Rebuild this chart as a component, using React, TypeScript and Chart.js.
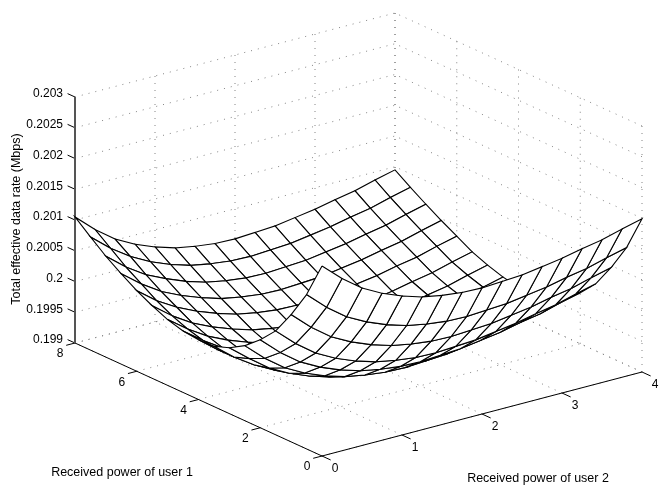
import React, { useEffect, useRef } from "react";
import { Chart, registerables } from "chart.js";

Chart.register(...registerables);

const power2 = [0, 0.25, 0.5, 0.75, 1, 1.25, 1.5, 1.75, 2, 2.25, 2.5, 2.75, 3, 3.25, 3.5, 3.75, 4];
const power1 = [0, 0.5, 1, 1.5, 2, 2.5, 3, 3.5, 4, 4.5, 5, 5.5, 6, 6.5, 7, 7.5, 8];
const rate = [
  [0.20209,0.20180,0.20156,0.20139,0.20126,0.20116,0.20110,0.20106,0.20105,0.20107,0.20109,0.20114,0.20119,0.20126,0.20132,0.20141,0.20149],
  [0.20151,0.20122,0.20098,0.20081,0.20068,0.20058,0.20052,0.20048,0.20047,0.20049,0.20051,0.20056,0.20061,0.20068,0.20074,0.20083,0.20091],
  [0.20107,0.20078,0.20054,0.20037,0.20024,0.20014,0.20008,0.20004,0.20003,0.20005,0.20007,0.20012,0.20017,0.20024,0.20030,0.20039,0.20047],
  [0.20069,0.20040,0.20016,0.19999,0.19986,0.19976,0.19970,0.19966,0.19965,0.19967,0.19969,0.19974,0.19979,0.19986,0.19992,0.20001,0.20009],
  [0.20043,0.20014,0.19990,0.19973,0.19960,0.19950,0.19944,0.19940,0.19939,0.19941,0.19943,0.19948,0.19953,0.19960,0.19966,0.19975,0.19983],
  [0.20022,0.19993,0.19969,0.19952,0.19939,0.19929,0.19923,0.19919,0.19918,0.19920,0.19922,0.19927,0.19932,0.19939,0.19945,0.19954,0.19962],
  [0.20007,0.19981,0.19957,0.19940,0.19927,0.19917,0.19911,0.19907,0.19906,0.19908,0.19910,0.19915,0.19920,0.19927,0.19933,0.19942,0.19950],
  [0.19998,0.19972,0.19951,0.19934,0.19921,0.19911,0.19905,0.19901,0.19900,0.19902,0.19904,0.19909,0.19914,0.19921,0.19927,0.19936,0.19944],
  [0.19997,0.19972,0.19951,0.19936,0.19923,0.19913,0.19907,0.19903,0.19902,0.19904,0.19906,0.19911,0.19916,0.19923,0.19929,0.19938,0.19946],
  [0.20000,0.19976,0.19955,0.19940,0.19928,0.19918,0.19912,0.19908,0.19907,0.19909,0.19911,0.19916,0.19921,0.19928,0.19934,0.19943,0.19951],
  [0.20007,0.19983,0.19963,0.19948,0.19936,0.19926,0.19920,0.19916,0.19915,0.19917,0.19919,0.19924,0.19929,0.19936,0.19942,0.19951,0.19959],
  [0.20018,0.19993,0.19973,0.19958,0.19946,0.19936,0.19930,0.19926,0.19925,0.19927,0.19929,0.19934,0.19939,0.19946,0.19952,0.19961,0.19969],
  [0.20031,0.20006,0.19987,0.19972,0.19960,0.19950,0.19944,0.19940,0.19939,0.19941,0.19943,0.19948,0.19953,0.19960,0.19966,0.19975,0.19983],
  [0.20047,0.20022,0.20001,0.19986,0.19974,0.19964,0.19958,0.19954,0.19953,0.19955,0.19957,0.19962,0.19967,0.19974,0.19980,0.19989,0.19997],
  [0.20064,0.20038,0.20017,0.20002,0.19989,0.19979,0.19973,0.19969,0.19968,0.19970,0.19972,0.19977,0.19982,0.19989,0.19995,0.20004,0.20012],
  [0.20084,0.20057,0.20035,0.20018,0.20005,0.19995,0.19989,0.19985,0.19984,0.19986,0.19988,0.19993,0.19998,0.20005,0.20011,0.20020,0.20028],
  [0.20105,0.20076,0.20052,0.20035,0.20022,0.20012,0.20006,0.20002,0.20001,0.20003,0.20005,0.20010,0.20015,0.20022,0.20028,0.20037,0.20045],
];

const xTicks = [0, 1, 2, 3, 4];
const yTicks = [0, 2, 4, 6, 8];
const zTicks = [0.199, 0.1995, 0.2, 0.2005, 0.201, 0.2015, 0.202, 0.2025, 0.203];
const zTickLabels = ["0.199", "0.1995", "0.2", "0.2005", "0.201", "0.2015", "0.202", "0.2025", "0.203"];
const xTitle = "Received power of user 2";
const yTitle = "Received power of user 1";
const zTitle = "Total effective data rate (Mbps)";

const X_MAX = 4;
const Y_MAX = 8;
const Z_MIN = 0.199;
const Z_MAX = 0.203;

function view(x: number, y: number, z: number) {
  return {
    x: 322 + 80 * x - 30.875 * y,
    y: 456 - 21 * x - 14.125 * y - (z - Z_MIN) * 61500,
  };
}

const base = { showLine: true, pointRadius: 0, pointHoverRadius: 0, tension: 0, fill: false };

function solid(a: number[], b: number[], color = "#000", width = 1) {
  return {
    ...base,
    data: [view(a[0], a[1], a[2]), view(b[0], b[1], b[2])],
    borderColor: color,
    borderWidth: width,
  };
}

function dotted(a: number[], b: number[]) {
  return { ...solid(a, b, "#777", 0.9), borderDash: [1, 6] };
}

function buildDatasets() {
  const sets: any[] = [];
  for (let i = 0; i < power2.length - 1; i++) {
    for (let j = 0; j < power1.length - 1; j++) {
      const corners = [
        view(power2[i], power1[j], rate[j][i]),
        view(power2[i + 1], power1[j], rate[j][i + 1]),
        view(power2[i + 1], power1[j + 1], rate[j + 1][i + 1]),
        view(power2[i], power1[j + 1], rate[j + 1][i]),
      ];
      sets.push({
        ...base,
        data: [...corners, corners[0]],
        borderColor: "#000",
        borderWidth: 1.1,
        backgroundColor: "#fff",
        fill: "shape",
      });
    }
  }
  sets.push(solid([0, Y_MAX, Z_MIN], [0, Y_MAX, Z_MAX], "#555", 2));
  sets.push(solid([0, 0, Z_MIN], [0, Y_MAX, Z_MIN]));
  sets.push(solid([0, 0, Z_MIN], [X_MAX, 0, Z_MIN]));
  xTicks.forEach((x) => sets.push(solid([x, 0, Z_MIN], [x, -0.28, Z_MIN])));
  yTicks.forEach((y) => sets.push(solid([0, y, Z_MIN], [-0.11, y, Z_MIN])));
  zTicks.forEach((z) => sets.push(solid([0, Y_MAX, z], [0, Y_MAX + 0.24, z])));
  xTicks.forEach((x) => {
    sets.push(dotted([x, 0, Z_MIN], [x, Y_MAX, Z_MIN]));
    sets.push(dotted([x, Y_MAX, Z_MIN], [x, Y_MAX, Z_MAX]));
  });
  yTicks.forEach((y) => {
    sets.push(dotted([0, y, Z_MIN], [X_MAX, y, Z_MIN]));
    sets.push(dotted([X_MAX, y, Z_MIN], [X_MAX, y, Z_MAX]));
  });
  zTicks.forEach((z) => {
    sets.push(dotted([0, Y_MAX, z], [X_MAX, Y_MAX, z]));
    sets.push(dotted([X_MAX, 0, z], [X_MAX, Y_MAX, z]));
  });
  return sets;
}

const labelsPlugin = {
  id: "boxLabels",
  afterDraw(chart: any) {
    const ctx = chart.ctx;
    const sx = chart.scales.x;
    const sy = chart.scales.y;
    const put = (text: string, px: number, py: number, align: CanvasTextAlign, rot = 0) => {
      ctx.save();
      ctx.translate(sx.getPixelForValue(px), sy.getPixelForValue(py));
      ctx.rotate(rot);
      ctx.textAlign = align;
      ctx.textBaseline = "middle";
      ctx.fillStyle = "#000";
      ctx.fillText(text, 0, 0);
      ctx.restore();
    };
    ctx.save();
    ctx.font = "12px 'Liberation Sans'";
    zTicks.forEach((z, k) => {
      const p = view(0, Y_MAX, z);
      put(zTickLabels[k], p.x - 12, p.y - 3, "right");
    });
    yTicks.forEach((y) => {
      const p = view(0, y, Z_MIN);
      put(String(y), p.x - 15, p.y + 11, "center");
    });
    xTicks.forEach((x) => {
      const p = view(x, 0, Z_MIN);
      put(String(x), p.x + 13, p.y + 13, "center");
    });
    ctx.font = "12.5px 'Liberation Sans'";
    put(yTitle, 122, 473, "center");
    put(xTitle, 538, 479, "center");
    put(zTitle, 17, 219, "center", -Math.PI / 2);
    ctx.restore();
  },
};

export default function App() {
  const ref = useRef<HTMLCanvasElement>(null);
  useEffect(() => {
    const chart = new Chart(ref.current as HTMLCanvasElement, {
      type: "scatter",
      data: { datasets: buildDatasets() },
      options: {
        animation: false,
        responsive: false,
        events: [],
        layout: { padding: 0 },
        plugins: { legend: { display: false }, tooltip: { enabled: false }, title: { display: false } },
        scales: {
          x: { type: "linear", min: 0, max: 660, display: false },
          y: { type: "linear", min: 0, max: 487, reverse: true, display: false },
        },
      },
      plugins: [labelsPlugin],
    } as any);
    return () => chart.destroy();
  }, []);
  return (
    <div style={{ position: "fixed", left: 0, top: 0, width: 660, height: 487, background: "#fff" }}>
      <canvas ref={ref} width={660} height={487} style={{ display: "block" }} />
    </div>
  );
}
